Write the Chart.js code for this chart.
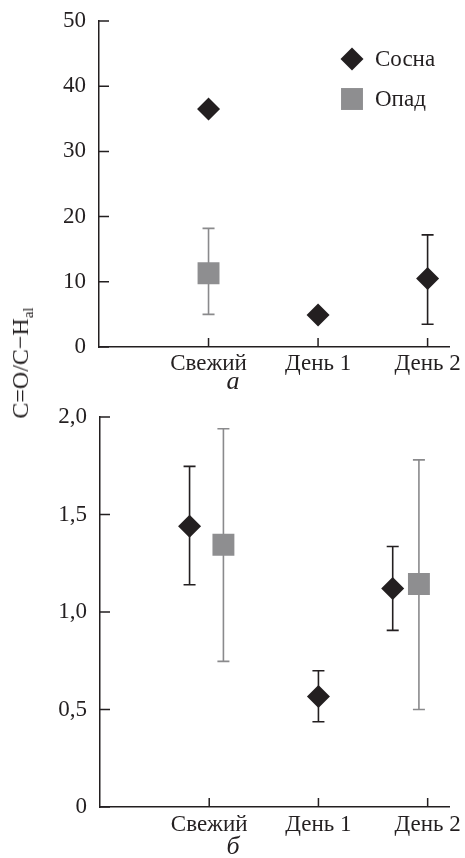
<!DOCTYPE html>
<html>
<head>
<meta charset="utf-8">
<script src="https://cdn.jsdelivr.net/npm/chart.js@4/dist/chart.umd.min.js"></script>
<style>
  body { margin: 0; background: #fff; width: 465px; height: 858px; overflow: hidden; position: relative; font-family: "Liberation Serif", serif; color: #231f20; }
  canvas { position: absolute; left: 0; }
  #topChart { top: 0; }
  #bottomChart { top: 395px; }
  .caption { position: absolute; font-style: italic; font-size: 26px; transform: translate(-50%, -50%); }
  #ylabel { position: absolute; left: 22px; top: 363px; font-size: 24px; white-space: nowrap; transform: translate(-50%, -50%) rotate(-90deg); }
  #ylabel sub { font-size: 15px; vertical-align: -5px; }
</style>
</head>
<body>
<canvas id="topChart" width="465" height="395"></canvas>
<canvas id="bottomChart" width="465" height="463"></canvas>
<div id="ylabel">C=O/C−H<sub>al</sub></div>
<div class="caption" style="left:233px; top:381px;">a</div>
<div class="caption" style="left:233px; top:846px;">б</div>
<script>
// data

const categories = ["Свежий", "День 1", "День 2"];
const seriesNames = ["Сосна", "Опад"];

// panel a
const topPineX = [1, 2, 3];
const topPineY = [36.5, 4.9, 10.5];
const topPineLo = [null, null, 3.5];
const topPineHi = [null, null, 17.2];

const topLitterX = [1];
const topLitterY = [11.3];
const topLitterLo = [5.0];
const topLitterHi = [18.2];

const topTicks = [0, 10, 20, 30, 40, 50];

// panel б
const botPineX = [0.82, 2, 2.68];
const botPineY = [1.44, 0.567, 1.12];
const botPineLo = [1.14, 0.437, 0.906];
const botPineHi = [1.747, 0.699, 1.336];

const botLitterX = [1.13, 2.92];
const botLitterY = [1.345, 1.144];
const botLitterLo = [0.747, 0.50];
const botLitterHi = [1.94, 1.78];

const botTicks = [0, 0.5, 1.0, 1.5, 2.0];

const INK = "#231f20";
const GRAY = "#8e8e90";
const FONT = { family: "'Liberation Serif', serif", size: 23 };

function pts(xs, ys, lo, hi) {
  return xs.map((x, i) => ({ x: x, y: ys[i], lo: lo[i], hi: hi[i] }));
}

// error bars under the markers
const errorBars = {
  id: "errorBars",
  beforeDatasetsDraw(chart) {
    const c = chart.ctx, ys = chart.scales.y, xs = chart.scales.x;
    chart.data.datasets.forEach(ds => {
      c.save();
      c.strokeStyle = ds.barColor;
      c.lineWidth = 1.6;
      ds.data.forEach(p => {
        if (p.lo == null) return;
        const px = xs.getPixelForValue(p.x);
        const y1 = ys.getPixelForValue(p.lo), y2 = ys.getPixelForValue(p.hi);
        c.beginPath();
        c.moveTo(px, y1); c.lineTo(px, y2);
        c.moveTo(px - 6, y1); c.lineTo(px + 6, y1);
        c.moveTo(px - 6, y2); c.lineTo(px + 6, y2);
        c.stroke();
      });
      c.restore();
    });
  }
};

// inward tick marks
const innerTicks = {
  id: "innerTicks",
  afterDraw(chart) {
    const c = chart.ctx, xs = chart.scales.x, ys = chart.scales.y;
    c.save();
    c.strokeStyle = INK;
    c.lineWidth = 1.5;
    c.beginPath();
    ys.ticks.forEach(t => {
      const py = ys.getPixelForValue(t.value);
      c.moveTo(ys.right, py); c.lineTo(ys.right + 10, py);
    });
    xs.ticks.forEach(t => {
      const px = xs.getPixelForValue(t.value);
      c.moveTo(px, xs.top); c.lineTo(px, xs.top - 9);
    });
    c.stroke();
    c.restore();
  }
};

// legend inside the top panel
const innerLegend = {
  id: "innerLegend",
  afterDraw(chart) {
    const c = chart.ctx;
    const H = Chart.helpers;
    c.save();
    c.font = "23px " + FONT.family;
    c.textBaseline = "middle";
    chart.data.datasets.forEach((ds, i) => {
      const x = 352, y = 59 + i * 40;
      c.fillStyle = ds.backgroundColor;
      c.strokeStyle = ds.backgroundColor;
      if (H && H.drawPoint) {
        H.drawPoint(c, { pointStyle: ds.pointStyle, radius: ds.pointRadius, borderWidth: 0 }, x, y);
      }
      c.fillStyle = INK;
      c.fillText(ds.label, 375, y + 1);
    });
    c.restore();
  }
};

function makeChart(id, pine, litter, ticks, yMax, pad, fmt) {
  return new Chart(document.getElementById(id), {
    type: "scatter",
    data: {
      datasets: [{
        label: seriesNames[0],
        data: pine,
        pointStyle: "rectRot",
        pointRadius: 11.5,
        pointHoverRadius: 11.5,
        backgroundColor: INK,
        borderColor: INK,
        borderWidth: 0,
        barColor: INK,
      }, {
        label: seriesNames[1],
        data: litter,
        pointStyle: "rect",
        pointRadius: 15.5,
        pointHoverRadius: 15.5,
        backgroundColor: GRAY,
        borderColor: GRAY,
        borderWidth: 0,
        barColor: "#8a8a8c",
      }],
    },
    options: {
      responsive: false,
      animation: false,
      layout: { padding: { top: pad.top, right: pad.right, left: 0, bottom: 0 } },
      plugins: {
        legend: { display: false },
        tooltip: { enabled: false },
      },
      scales: {
        x: {
          type: "linear",
          min: 0,
          max: 3.2,
          afterBuildTicks: s => { s.ticks = [1, 2, 3].map(v => ({ value: v })); },
          afterFit: s => { s.height = pad.xh; s.paddingLeft = 0; s.paddingRight = 0; },
          border: { display: true, color: INK, width: 1.5 },
          grid: { display: false, drawTicks: false },
          ticks: {
            color: INK,
            font: FONT,
            padding: pad.xp,
            maxRotation: 0,
            callback: v => categories[v - 1],
          },
        },
        y: {
          min: 0,
          max: yMax,
          afterBuildTicks: s => { s.ticks = ticks.map(v => ({ value: v })); },
          afterFit: s => { s.width = pad.yw; s.paddingTop = 0; s.paddingBottom = 0; },
          border: { display: true, color: INK, width: 1.5 },
          grid: { display: false, drawTicks: false },
          ticks: {
            color: INK,
            font: FONT,
            padding: 13,
            callback: fmt,
          },
        },
      },
    },
    plugins: id === "topChart" ? [errorBars, innerTicks, innerLegend] : [errorBars, innerTicks],
  });
}

makeChart("topChart",
  pts(topPineX, topPineY, topPineLo, topPineHi),
  pts(topLitterX, topLitterY, topLitterLo, topLitterHi),
  topTicks, 50,
  { top: 21, right: 15, xh: 48, yw: 99, xp: 3 },
  v => String(v));

makeChart("bottomChart",
  pts(botPineX, botPineY, botPineLo, botPineHi),
  pts(botLitterX, botLitterY, botLitterLo, botLitterHi),
  botTicks, 2.0,
  { top: 22, right: 9, xh: 51, yw: 100, xp: 4 },
  v => v === 0 ? "0" : v.toFixed(1).replace(".", ","));
</script>
</body>
</html>
